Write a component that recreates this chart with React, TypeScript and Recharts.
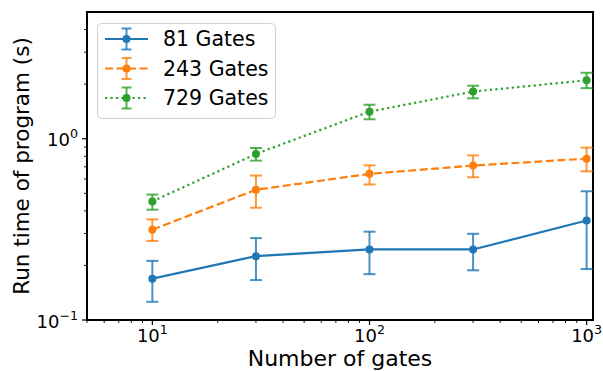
import React from "react";
import { LineChart, Line, XAxis, YAxis, ErrorBar, Legend, ReferenceArea } from "recharts";

// number of gates per program
const gateCounts = [10, 30, 100, 300, 1000];

// run time (s) — mean, lower and upper error bound
const run81 = [0.169, 0.225, 0.245, 0.245, 0.354];
const run81Lo = [0.126, 0.166, 0.179, 0.188, 0.191];
const run81Hi = [0.212, 0.283, 0.307, 0.299, 0.513];

const run243 = [0.315, 0.523, 0.64, 0.711, 0.776];
const run243Lo = [0.273, 0.416, 0.559, 0.613, 0.661];
const run243Hi = [0.359, 0.626, 0.713, 0.809, 0.893];

const run729 = [0.451, 0.824, 1.41, 1.82, 2.1];
const run729Lo = [0.406, 0.757, 1.28, 1.67, 1.9];
const run729Hi = [0.492, 0.889, 1.54, 1.96, 2.31];

const xTicks = [
  5, 6, 7, 8, 9, 10, 20, 30, 40, 50, 60, 70, 80, 90, 100, 200, 300, 400, 500,
  600, 700, 800, 900, 1000,
];
const xMajor = [10, 100, 1000];
const yTicks = [0.1, 0.2, 0.3, 0.4, 0.5, 0.6, 0.7, 0.8, 0.9, 1, 2, 3, 4];
const yMajor = [0.1, 1];

const series = [
  { key: "g81", name: "81 Gates", color: "#1f77b4", dash: undefined as string | undefined },
  { key: "g243", name: "243 Gates", color: "#ff7f0e", dash: "8 3.5" },
  { key: "g729", name: "729 Gates", color: "#2ca02c", dash: "2.2 3.3" },
];

const data = gateCounts.map((g, i) => ({
  gates: g,
  g81: run81[i],
  e81: [run81[i] - run81Lo[i], run81Hi[i] - run81[i]],
  g243: run243[i],
  e243: [run243[i] - run243Lo[i], run243Hi[i] - run243[i]],
  g729: run729[i],
  e729: [run729[i] - run729Lo[i], run729Hi[i] - run729[i]],
}));

const FONT = "'DejaVu Sans'";

const expLabel = (v: number) => {
  const e = Math.round(Math.log10(v));
  return e < 0 ? "\u2212" + Math.abs(e) : String(e);
};

const XTick = (props: any) => {
  const { x, y, payload } = props;
  const major = xMajor.includes(payload.value);
  return (
    <g>
      <line x1={x} x2={x} y1={y} y2={y + (major ? 5 : 3)} stroke="#000" strokeWidth={major ? 1.2 : 0.9} />
      {major && (
        <text x={x} y={y + 22} textAnchor="middle" fontSize={18} fontFamily={FONT} fill="#000">
          10
          <tspan dy={-8} fontSize={12.6}>
            {expLabel(payload.value)}
          </tspan>
        </text>
      )}
    </g>
  );
};

const YTick = (props: any) => {
  const { x, y, payload } = props;
  const major = yMajor.includes(payload.value);
  return (
    <g>
      <line x1={x - (major ? 5 : 3)} x2={x} y1={y} y2={y} stroke="#000" strokeWidth={major ? 1.2 : 0.9} />
      {major && (
        <text x={x - 9} y={y + 7.5} textAnchor="end" fontSize={18} fontFamily={FONT} fill="#000">
          10
          <tspan dy={-8} fontSize={12.6}>
            {expLabel(payload.value)}
          </tspan>
        </text>
      )}
    </g>
  );
};

const LegendBox = () => (
  <svg width={181} height={97} style={{ display: "block" }}>
    <rect x={0.5} y={0.5} width={178} height={95} rx={4} fill="#fff" fillOpacity={0.8} stroke="#d0d0d0" />
    {series.map((s, i) => {
      const cy = 16 + i * 29.5;
      return (
        <g key={s.key}>
          <line x1={8} x2={51} y1={cy} y2={cy} stroke={s.color} strokeWidth={2.2} strokeDasharray={s.dash} />
          <line x1={29.5} x2={29.5} y1={cy - 10.5} y2={cy + 10.5} stroke={s.color} strokeWidth={2} strokeOpacity={0.8} />
          <line x1={24.5} x2={34.5} y1={cy - 10.5} y2={cy - 10.5} stroke={s.color} strokeWidth={2} strokeOpacity={0.8} />
          <line x1={24.5} x2={34.5} y1={cy + 10.5} y2={cy + 10.5} stroke={s.color} strokeWidth={2} strokeOpacity={0.8} />
          <circle cx={29.5} cy={cy} r={4} fill={s.color} />
          <text x={66} y={cy + 7} fontSize={20.5} fontFamily={FONT} fill="#000">
            {s.name}
          </text>
        </g>
      );
    })}
  </svg>
);

export default function App() {
  return (
    <div
      style={{
        position: "fixed",
        left: 0,
        top: 0,
        width: 603,
        height: 371,
        background: "#fff",
        fontFamily: FONT,
      }}
    >
      <LineChart width={603} height={371} data={data} margin={{ top: 12, right: 10, bottom: 0, left: 0 }}>
        <XAxis
          dataKey="gates"
          type="number"
          scale="log"
          domain={[5, 1070]}
          allowDataOverflow
          ticks={xTicks}
          interval={0}
          height={51}
          tickSize={0}
          tickMargin={0}
          tickLine={false}
          tick={<XTick />}
          axisLine={{ stroke: "#000", strokeWidth: 2 }}
          label={(p: any) => {
            const vb = p.viewBox;
            return (
              <text x={vb.x + vb.width / 2} y={vb.y + 46} textAnchor="middle" fontSize={22} fontFamily={FONT} fill="#000">
                Number of gates
              </text>
            );
          }}
        />
        <YAxis
          type="number"
          scale="log"
          domain={[0.1, 5]}
          allowDataOverflow
          ticks={yTicks}
          interval={0}
          width={87}
          tickSize={0}
          tickMargin={0}
          tickLine={false}
          tick={<YTick />}
          axisLine={{ stroke: "#000", strokeWidth: 2 }}
          label={(p: any) => {
            const vb = p.viewBox;
            const cy = vb.y + vb.height / 2;
            return (
              <text
                x={21}
                y={cy}
                transform={`rotate(-90, 21, ${cy})`}
                textAnchor="middle"
                dominantBaseline="central"
                fontSize={21.5}
                fontFamily={FONT}
                fill="#000"
              >
                Run time of program (s)
              </text>
            );
          }}
        />
        {/* plot frame */}
        <ReferenceArea
          x1={5}
          x2={1070}
          y1={0.1}
          y2={5}
          fill="none"
          stroke="#000"
          strokeWidth={2}
          ifOverflow="visible"
        />
        {series.map((s) => (
          <Line
            key={s.key}
            dataKey={s.key}
            name={s.name}
            stroke={s.color}
            strokeWidth={2.2}
            strokeDasharray={s.dash}
            dot={{ r: 4, fill: s.color, stroke: "none", strokeDasharray: "none" }}
            activeDot={false}
            isAnimationActive={false}
          >
            <ErrorBar
              dataKey={"e" + s.key.slice(1)}
              direction="y"
              width={6}
              stroke={s.color}
              strokeWidth={2}
              strokeOpacity={0.8}
              isAnimationActive={false}
            />
          </Line>
        ))}
        <Legend
          layout="horizontal"
          align="center"
          verticalAlign="middle"
          wrapperStyle={{ top: 23, left: 97, width: 181 }}
          content={() => <LegendBox />}
        />
      </LineChart>
    </div>
  );
}
